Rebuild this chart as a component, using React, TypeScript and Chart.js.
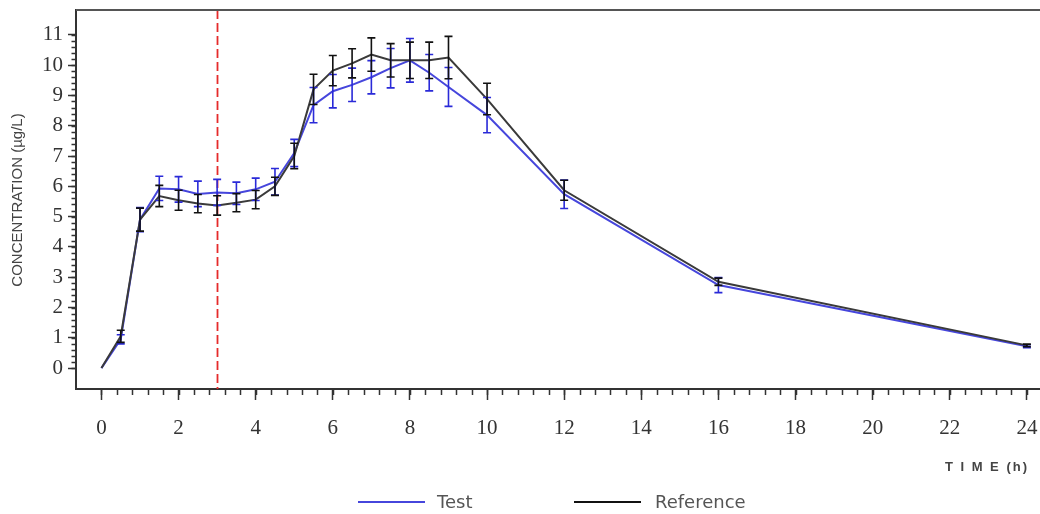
import React, { useEffect, useRef } from "react";
import { Chart, registerables } from "chart.js";

Chart.register(...registerables);

// ---- data ----
const timeHours = [0, 0.5, 1, 1.5, 2, 2.5, 3, 3.5, 4, 4.5, 5, 5.5, 6, 6.5, 7, 7.5, 8, 8.5, 9, 10, 12, 16, 24];

const testMean = [0, 0.95, 4.9, 5.93, 5.9, 5.75, 5.8, 5.77, 5.9, 6.15, 7.1, 8.68, 9.14, 9.35, 9.6, 9.9, 10.16, 9.75, 9.28, 8.35, 5.74, 2.74, 0.72];
const testSD = [0, 0.15, 0.4, 0.4, 0.42, 0.42, 0.43, 0.37, 0.37, 0.44, 0.45, 0.58, 0.55, 0.55, 0.55, 0.65, 0.72, 0.6, 0.64, 0.58, 0.47, 0.25, 0.05];

const refMean = [0, 1.05, 4.9, 5.68, 5.54, 5.43, 5.37, 5.46, 5.56, 6.0, 7.0, 9.2, 9.82, 10.06, 10.35, 10.16, 10.16, 10.16, 10.25, 8.88, 5.87, 2.85, 0.75];
const refSD = [0, 0.2, 0.38, 0.35, 0.33, 0.3, 0.32, 0.3, 0.3, 0.3, 0.42, 0.5, 0.5, 0.48, 0.55, 0.55, 0.6, 0.6, 0.7, 0.52, 0.33, 0.12, 0.04];

const xTickValues = [0, 2, 4, 6, 8, 10, 12, 14, 16, 18, 20, 22, 24];
const yTickValues = [0, 1, 2, 3, 4, 5, 6, 7, 8, 9, 10, 11];
const xMinorStep = 0.4;
const yMinorStep = 0.2;
const doseLineTime = 3;

const seriesNames = ["Test", "Reference"];
const yTitle = "CONCENTRATION (µg/L)";
const xTitle = "T I M E (h)";

const BLUE = "#4646dc";
const BLUE_BAR = "#2a2ad8";
const BLACK = "#3a3a3a";
const BLACK_BAR = "#111111";
const AXIS = "#333333";

export default function App() {
  const canvasRef = useRef<HTMLCanvasElement | null>(null);

  useEffect(() => {
    const canvas = canvasRef.current;
    if (!canvas) return;

    const decorations = {
      id: "decorations",
      beforeDatasetsDraw(chart: any) {
        const { ctx, chartArea, scales } = chart;
        const x = scales.x;
        ctx.save();
        const px = Math.round(x.getPixelForValue(doseLineTime)) + 0.5;
        ctx.strokeStyle = "#e52b2b";
        ctx.lineWidth = 1.8;
        ctx.setLineDash([9, 4]);
        ctx.beginPath();
        ctx.moveTo(px, chartArea.top);
        ctx.lineTo(px, chartArea.bottom);
        ctx.stroke();
        ctx.restore();
      },
      afterDatasetsDraw(chart: any) {
        const { ctx, chartArea, scales } = chart;
        const x = scales.x;
        const y = scales.y;
        ctx.save();
        ctx.beginPath();
        ctx.rect(chartArea.left, chartArea.top - 5, chartArea.right - chartArea.left, chartArea.bottom - chartArea.top + 5);
        ctx.clip();
        const sets = [
          { mean: testMean, sd: testSD, color: BLUE_BAR },
          { mean: refMean, sd: refSD, color: BLACK_BAR },
        ];
        ctx.lineWidth = 1.6;
        for (const s of sets) {
          ctx.strokeStyle = s.color;
          for (let i = 0; i < timeHours.length; i++) {
            if (!s.sd[i]) continue;
            const px = x.getPixelForValue(timeHours[i]);
            const yTop = y.getPixelForValue(s.mean[i] + s.sd[i]);
            const yBot = y.getPixelForValue(s.mean[i] - s.sd[i]);
            ctx.beginPath();
            ctx.moveTo(px, yTop);
            ctx.lineTo(px, yBot);
            ctx.moveTo(px - 4, yTop);
            ctx.lineTo(px + 4, yTop);
            ctx.moveTo(px - 4, yBot);
            ctx.lineTo(px + 4, yBot);
            ctx.stroke();
          }
        }
        ctx.restore();
      },
      afterDraw(chart: any) {
        const { ctx, chartArea, scales } = chart;
        const x = scales.x;
        const y = scales.y;
        ctx.save();
        // top frame line
        ctx.strokeStyle = "#555555";
        ctx.lineWidth = 2;
        ctx.beginPath();
        ctx.moveTo(chartArea.left, chartArea.top);
        ctx.lineTo(chartArea.right, chartArea.top);
        ctx.stroke();

        // minor ticks
        ctx.strokeStyle = AXIS;
        ctx.lineWidth = 1.5;
        ctx.beginPath();
        const xFirst = xTickValues[0];
        const xLast = xTickValues[xTickValues.length - 1];
        const nx = Math.round((xLast - xFirst) / xMinorStep);
        for (let k = 0; k <= nx; k++) {
          const v = xFirst + k * xMinorStep;
          const px = Math.round(x.getPixelForValue(v)) + 0.5;
          ctx.moveTo(px, chartArea.bottom);
          ctx.lineTo(px, chartArea.bottom + 6);
        }
        const yFirst = yTickValues[0];
        const yLast = yTickValues[yTickValues.length - 1];
        const ny = Math.round((yLast - yFirst) / yMinorStep);
        for (let k = 0; k <= ny; k++) {
          const v = yFirst + k * yMinorStep;
          const py = Math.round(y.getPixelForValue(v)) + 0.5;
          ctx.moveTo(chartArea.left, py);
          ctx.lineTo(chartArea.left - 4.5, py);
        }
        ctx.stroke();

        // y axis title
        ctx.fillStyle = "#444444";
        ctx.font = "15px 'Liberation Sans', Arial, sans-serif";
        ctx.textAlign = "center";
        ctx.textBaseline = "middle";
        ctx.save();
        ctx.translate(18, 200);
        ctx.rotate(-Math.PI / 2);
        ctx.fillText(yTitle, 0, 0);
        ctx.restore();

        // x axis title
        ctx.font = "bold 13px 'Liberation Sans', Arial, sans-serif";
        (ctx as any).letterSpacing = "2px";
        ctx.textAlign = "right";
        ctx.fillStyle = "#444444";
        ctx.fillText(xTitle, 1029, 467);
        (ctx as any).letterSpacing = "0px";

        // legend
        const legendItems = [
          { name: seriesNames[0], color: BLUE, x0: 358, x1: 425, tx: 437 },
          { name: seriesNames[1], color: "#111111", x0: 574, x1: 641, tx: 655 },
        ];
        ctx.font = "18px 'DejaVu Sans', sans-serif";
        ctx.textAlign = "left";
        ctx.textBaseline = "middle";
        for (const it of legendItems) {
          ctx.strokeStyle = it.color;
          ctx.lineWidth = 2;
          ctx.beginPath();
          ctx.moveTo(it.x0, 502);
          ctx.lineTo(it.x1, 502);
          ctx.stroke();
          ctx.fillStyle = "#555555";
          ctx.fillText(it.name, it.tx, 503);
        }
        ctx.restore();
      },
    };

    const chart = new Chart(canvas, {
      type: "line",
      data: {
        datasets: [
          {
            label: seriesNames[0],
            data: timeHours.map((t, i) => ({ x: t, y: testMean[i] })),
            borderColor: BLUE,
            borderWidth: 2,
            pointRadius: 0,
            fill: false,
            tension: 0,
            order: 1,
          },
          {
            label: seriesNames[1],
            data: timeHours.map((t, i) => ({ x: t, y: refMean[i] })),
            borderColor: BLACK,
            borderWidth: 2,
            pointRadius: 0,
            fill: false,
            tension: 0,
            order: 0,
          },
        ],
      },
      options: {
        responsive: false,
        animation: false,
        layout: { padding: { left: 0, right: 0, top: 10, bottom: 0 } },
        plugins: {
          legend: { display: false },
          tooltip: { enabled: false },
        },
        scales: {
          x: {
            type: "linear",
            min: -0.66,
            max: 24.34,
            afterBuildTicks: (axis: any) => {
              axis.ticks = xTickValues.map((v) => ({ value: v }));
            },
            afterFit: (axis: any) => {
              axis.height = 125;
              axis.paddingLeft = 0;
              axis.paddingRight = 0;
            },
            grid: {
              drawOnChartArea: false,
              drawTicks: true,
              tickLength: 11,
              tickColor: AXIS,
              tickWidth: 1.5,
            },
            border: { display: true, color: AXIS, width: 2 },
            ticks: {
              font: { family: "'Liberation Serif', 'Times New Roman', serif", size: 21 },
              color: "#333333",
              padding: 16,
              maxRotation: 0,
              autoSkip: false,
            },
          },
          y: {
            type: "linear",
            min: -0.69,
            max: 11.82,
            afterBuildTicks: (axis: any) => {
              axis.ticks = yTickValues.map((v) => ({ value: v }));
            },
            afterFit: (axis: any) => {
              axis.width = 76;
              axis.paddingTop = 0;
              axis.paddingBottom = 0;
            },
            grid: {
              drawOnChartArea: false,
              drawTicks: true,
              tickLength: 8,
              tickColor: AXIS,
              tickWidth: 1.5,
            },
            border: { display: true, color: AXIS, width: 2 },
            ticks: {
              font: { family: "'Liberation Serif', 'Times New Roman', serif", size: 21 },
              color: "#333333",
              padding: 5,
              autoSkip: false,
            },
          },
        },
      },
      plugins: [decorations],
    } as any);

    return () => {
      chart.destroy();
    };
  }, []);

  return (
    <div style={{ position: "fixed", left: 0, top: 0, width: 1040, height: 514, background: "#ffffff" }}>
      <canvas ref={canvasRef} width={1040} height={514} style={{ display: "block", width: 1040, height: 514 }} />
    </div>
  );
}
